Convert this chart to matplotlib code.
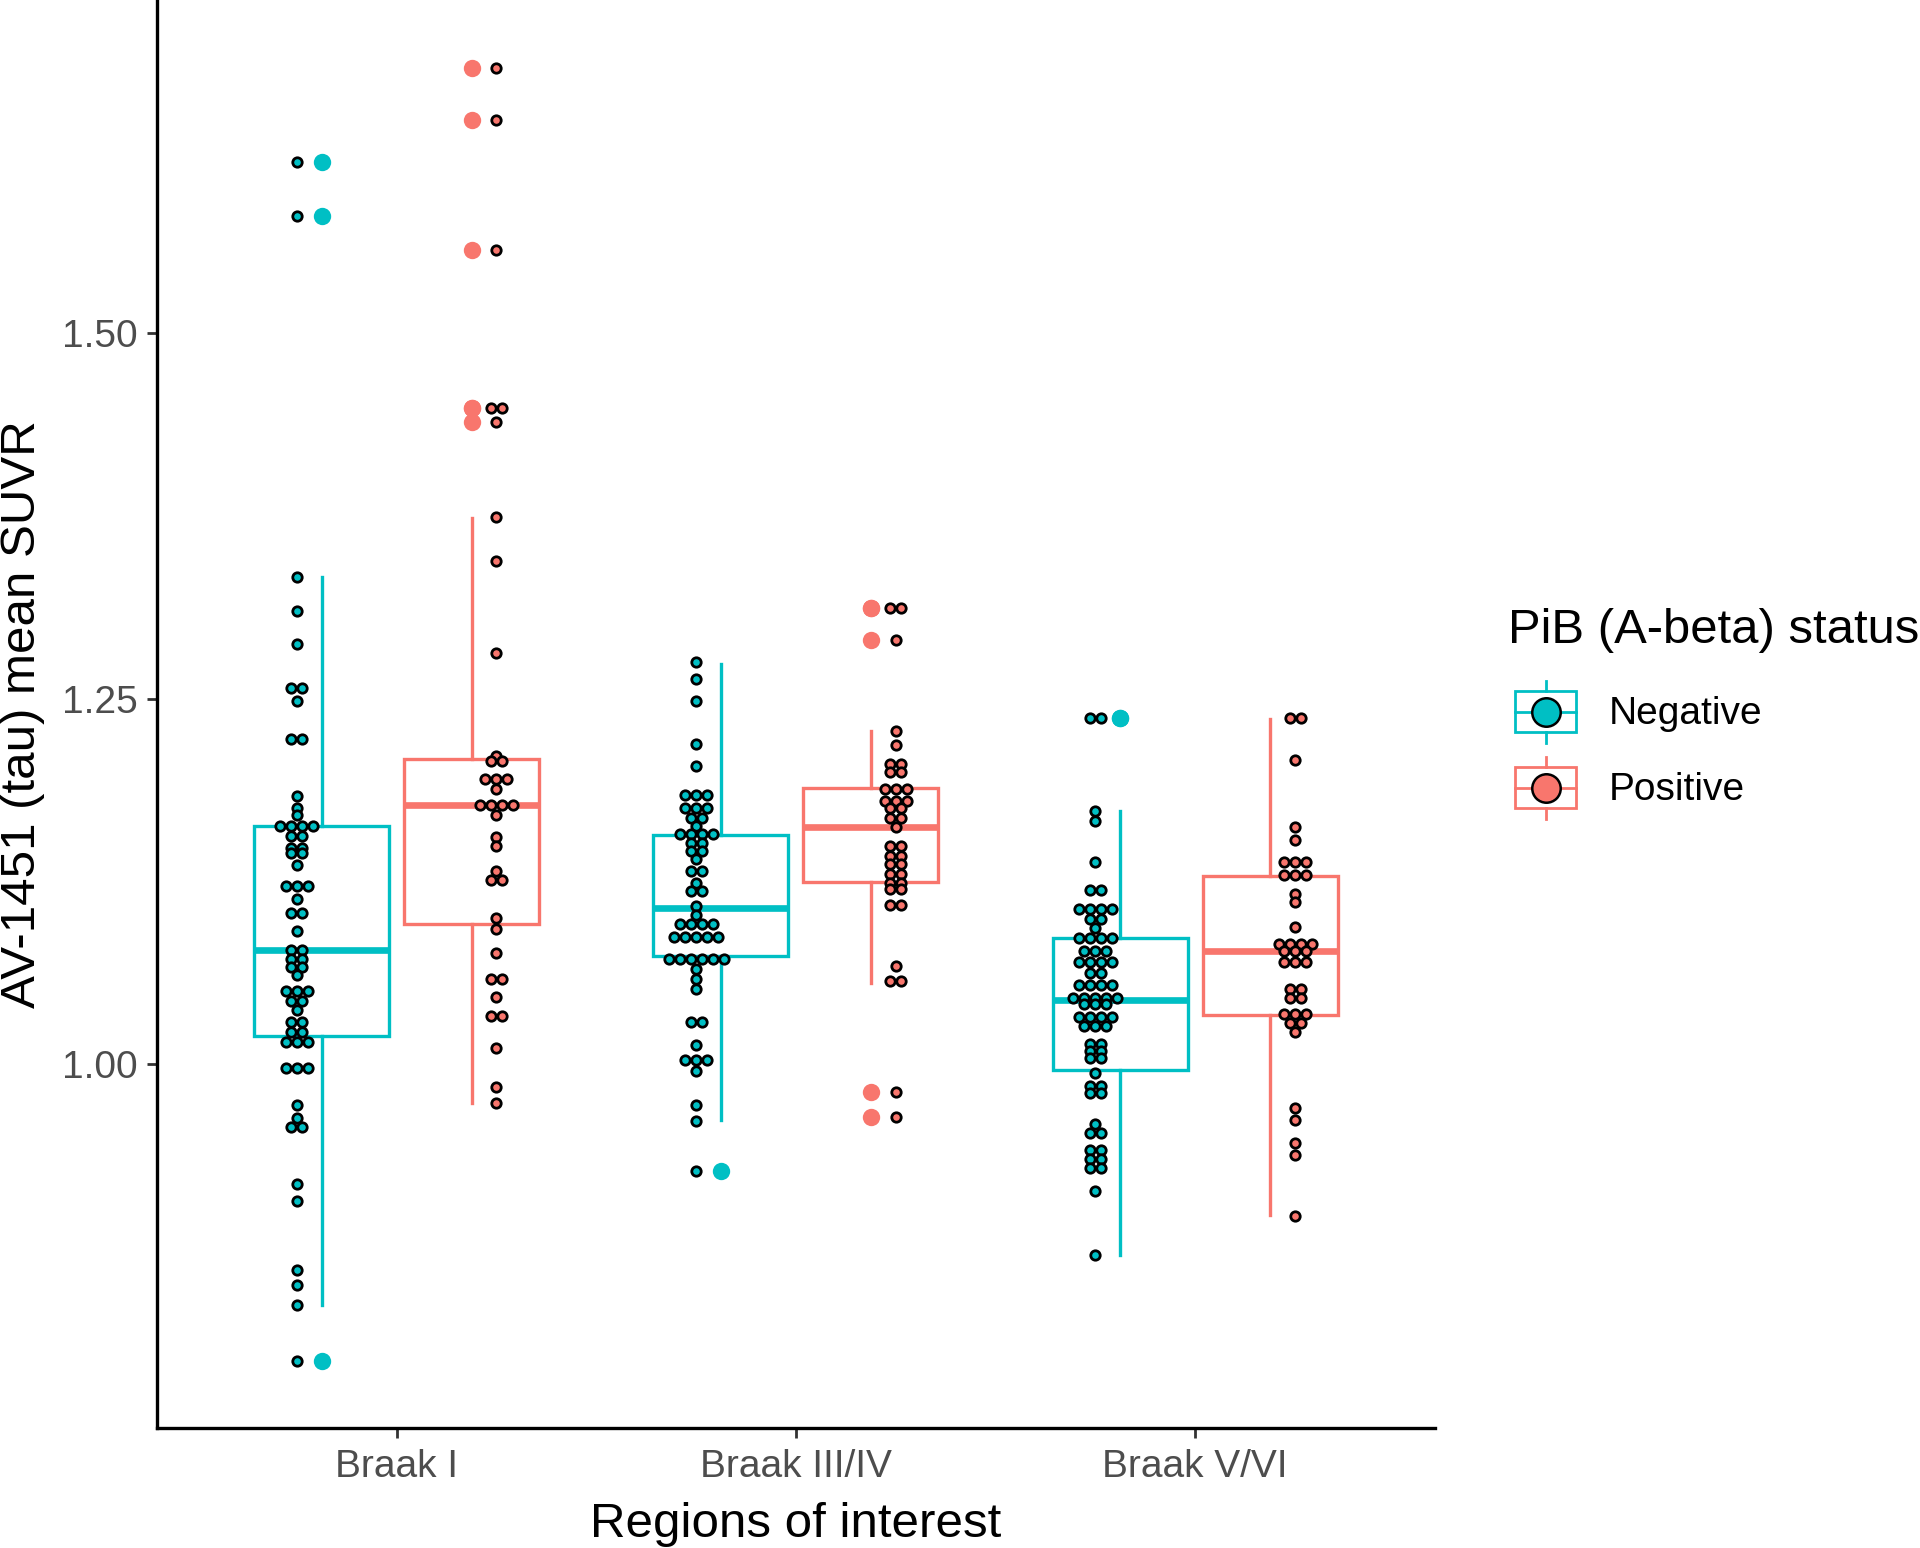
import matplotlib
matplotlib.use("Agg")
import matplotlib.pyplot as plt
from matplotlib.patches import Rectangle
from matplotlib.lines import Line2D
from collections import Counter

plt.rcParams['font.family'] = ['Liberation Sans', 'DejaVu Sans']

regions = ["Braak I", "Braak III/IV", "Braak V/VI"]
status = ["Negative", "Positive"]
colors = {"Negative": "#00BFC4", "Positive": "#F8766D"}

# individual SUVR values
braak1_neg = [1.617, 1.580, 1.333, 1.310, 1.287, 1.257, 1.257, 1.248, 1.222, 1.222,
              1.183, 1.175, 1.170, 1.163, 1.163, 1.163, 1.163, 1.156, 1.156, 1.148, 1.148,
              1.144, 1.144, 1.136, 1.122, 1.122, 1.122, 1.113, 1.103, 1.103, 1.091,
              1.078, 1.078, 1.072, 1.072, 1.066, 1.066, 1.061, 1.050, 1.050, 1.050,
              1.043, 1.043, 1.037, 1.029, 1.029, 1.022, 1.022, 1.015, 1.015, 1.015,
              0.997, 0.997, 0.997, 0.972, 0.963, 0.957, 0.957, 0.918, 0.906,
              0.859, 0.849, 0.835, 0.797]
braak1_pos = [1.681, 1.646, 1.557, 1.449, 1.449, 1.439, 1.374, 1.344, 1.281, 1.211,
              1.207, 1.207, 1.195, 1.195, 1.195, 1.188, 1.177, 1.177, 1.177, 1.177,
              1.170, 1.155, 1.149, 1.132, 1.126, 1.126, 1.100, 1.092, 1.076,
              1.058, 1.058, 1.046, 1.033, 1.033, 1.011, 0.984, 0.973]
braak34_neg = [1.275, 1.263, 1.248, 1.219, 1.204, 1.184, 1.184, 1.184, 1.175, 1.175, 1.175,
               1.168, 1.168, 1.163, 1.157, 1.157, 1.157, 1.157, 1.151, 1.151, 1.146, 1.146,
               1.140, 1.132, 1.132, 1.124, 1.118, 1.118, 1.108, 1.102,
               1.096, 1.096, 1.096, 1.096, 1.087, 1.087, 1.087, 1.087, 1.087,
               1.072, 1.072, 1.072, 1.072, 1.072, 1.072, 1.065, 1.058, 1.051,
               1.029, 1.029, 1.013, 1.003, 1.003, 1.003, 0.995, 0.972, 0.961, 0.927]
braak34_pos = [1.312, 1.312, 1.290, 1.228, 1.218, 1.205, 1.205, 1.200, 1.200,
               1.188, 1.188, 1.188, 1.180, 1.180, 1.180, 1.175, 1.175, 1.168, 1.168, 1.162,
               1.149, 1.149, 1.142, 1.142, 1.137, 1.137, 1.130, 1.130, 1.124, 1.124,
               1.120, 1.120, 1.109, 1.109, 1.067, 1.057, 1.057, 0.981, 0.964]
braak56_neg = [1.237, 1.237, 1.173, 1.166, 1.138, 1.119, 1.119, 1.106, 1.106, 1.106, 1.106,
               1.099, 1.099, 1.093, 1.086, 1.086, 1.086, 1.086, 1.077, 1.077, 1.077,
               1.070, 1.070, 1.070, 1.070, 1.062, 1.062, 1.054, 1.054, 1.054, 1.054,
               1.045, 1.045, 1.045, 1.045, 1.045, 1.041, 1.041, 1.041,
               1.032, 1.032, 1.032, 1.032, 1.026, 1.026, 1.026, 1.014, 1.014,
               1.009, 1.009, 1.004, 1.004, 0.994, 0.985, 0.985, 0.980, 0.980,
               0.959, 0.953, 0.953, 0.941, 0.941, 0.935, 0.935, 0.929, 0.929, 0.913, 0.869]
braak56_pos = [1.237, 1.237, 1.208, 1.162, 1.153, 1.138, 1.138, 1.138, 1.129, 1.129, 1.129,
               1.116, 1.111, 1.094, 1.082, 1.082, 1.082, 1.082, 1.077, 1.077, 1.077,
               1.070, 1.070, 1.070, 1.051, 1.051, 1.045, 1.045, 1.034, 1.034, 1.034,
               1.028, 1.028, 1.022, 0.970, 0.962, 0.946, 0.938, 0.896]

groups = [braak1_neg, braak1_pos, braak34_neg, braak34_pos, braak56_neg, braak56_pos]

# box statistics (same order as groups)
box_q1 = [1.019, 1.096, 1.074, 1.1245, 0.996, 1.0336]
box_med = [1.078, 1.1770, 1.107, 1.1624, 1.0435, 1.0773]
box_q3 = [1.163, 1.2085, 1.1566, 1.1886, 1.086, 1.1287]
whisk_lo = [0.835, 0.9736, 0.9614, 1.0556, 0.869, 0.8965]
whisk_hi = [1.333, 1.3735, 1.2738, 1.2277, 1.173, 1.236]

dodge = 0.188
box_w = 0.338
dot_off = 0.25
dot_step = 0.0276

fig = plt.figure(figsize=(19.2, 15.48), dpi=100)
ax = fig.add_axes([157 / 1920, 120 / 1548, 1277.8 / 1920, 1428 / 1548])

for gi, vals in enumerate(groups):
    ri, si = divmod(gi, 2)
    col = colors[status[si]]
    sign = -1 if si == 0 else 1
    xbox = ri + 1 + sign * dodge
    lo, hi = whisk_lo[gi], whisk_hi[gi]
    fliers = [v for v in vals if v < lo - 0.003 or v > hi + 0.003]
    stats = [dict(med=box_med[gi], q1=box_q1[gi], q3=box_q3[gi],
                  whislo=lo, whishi=hi, fliers=fliers)]
    ax.bxp(stats, positions=[xbox], widths=box_w, patch_artist=True,
           showcaps=False, manage_ticks=False,
           boxprops=dict(facecolor="white", edgecolor=col, linewidth=2.4),
           medianprops=dict(color=col, linewidth=4.8, solid_capstyle="butt"),
           whiskerprops=dict(color=col, linewidth=2.4),
           flierprops=dict(marker="o", markerfacecolor=col, markeredgecolor="none",
                           markersize=12.5),
           zorder=2)

    # centred dot stacks, shifted away from the box
    xdot = ri + 1 + sign * dot_off
    xs, ys = [], []
    for v, k in Counter(vals).items():
        for i in range(k):
            xs.append(xdot + (i - (k - 1) / 2) * dot_step)
            ys.append(v)
    ax.scatter(xs, ys, s=46, c=col, edgecolors="black", linewidths=2.0, zorder=4)

ax.set_xlim(0.4, 3.6)
ax.set_ylim(0.751, 1.7278)
ax.set_xticks([1, 2, 3])
ax.set_xticklabels(regions)
ax.set_yticks([1.0, 1.25, 1.5])
ax.set_yticklabels(["1.00", "1.25", "1.50"])
for side in ["top", "right"]:
    ax.spines[side].set_visible(False)
for side in ["left", "bottom"]:
    ax.spines[side].set_linewidth(2.4)
ax.tick_params(length=7.2, width=2.0, color="#333333", labelsize=28,
               labelcolor="#4D4D4D")
ax.tick_params(axis="y", pad=7)
ax.tick_params(axis="x", pad=8)

fig.text(796 / 1920, 1 - 1537 / 1548, "Regions of interest", fontsize=35.5,
         ha="center", va="baseline")
fig.text(23 / 1920, 1 - 714 / 1548, "AV-1451 (tau) mean SUVR", fontsize=35.5,
         rotation=90, ha="center", va="center")

# legend drawn in pixel coordinates
lax = fig.add_axes([0, 0, 1, 1])
lax.set_xlim(0, 1920)
lax.set_ylim(1548, 0)
lax.axis("off")
fig.text(1508 / 1920, 1 - 630 / 1548, "PiB (A-beta) status", fontsize=35.3,
         ha="left", va="center")
for k, (lab, yc) in enumerate(zip(status, [711.5, 787.5])):
    col = colors[lab]
    lax.add_patch(Rectangle((1515, yc - 20.5), 61, 41, facecolor="white",
                            edgecolor=col, linewidth=2.0))
    lax.add_line(Line2D([1545.5, 1545.5], [yc - 31, yc - 20.5], color=col, linewidth=2.0))
    lax.add_line(Line2D([1545.5, 1545.5], [yc + 20.5, yc + 31], color=col, linewidth=2.0))
    lax.add_line(Line2D([1515, 1576], [yc, yc], color=col, linewidth=2.0))
    lax.plot([1545.5], [yc], marker="o", markersize=20.5, markerfacecolor=col,
             markeredgecolor="black", markeredgewidth=1.8)
    fig.text(1609 / 1920, 1 - (yc + 2) / 1548, lab, fontsize=28, ha="left", va="center")

fig.savefig("out.png", dpi=100)
